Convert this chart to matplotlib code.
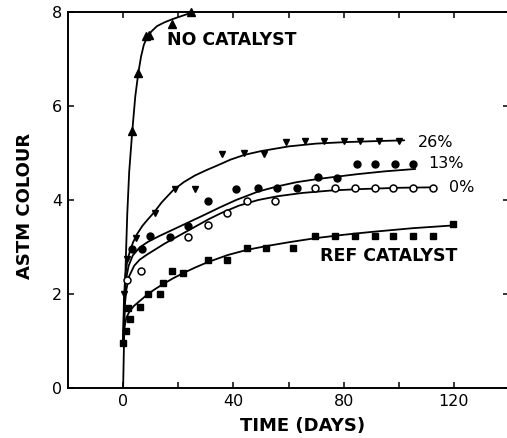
import matplotlib.pyplot as plt

plt.rcParams['font.family'] = ['DejaVu Sans']

# measured points (days, ASTM colour)
no_cat_t = [3.3, 5.5, 8.3, 9.3, 17.8, 24.5]
no_cat_y = [5.47, 6.7, 7.48, 7.52, 7.74, 8.0]

p26_t = [0.3, 1.5, 4.5, 11.5, 19, 26, 36, 44, 51, 59, 66, 73, 80, 86, 93, 100]
p26_y = [2.0, 2.75, 3.2, 3.72, 4.23, 4.23, 4.98, 5.0, 4.98, 5.24, 5.25, 5.25, 5.25, 5.25, 5.25, 5.25]

p13_t = [3.3, 6.9, 9.8, 17, 23.6, 30.8, 41, 49, 56, 63, 70.7, 77.6, 84.8, 91.4, 98.6, 105.2]
p13_y = [2.96, 2.96, 3.23, 3.21, 3.45, 3.98, 4.23, 4.26, 4.26, 4.26, 4.49, 4.47, 4.77, 4.77, 4.76, 4.76]

p0_t = [1.5, 6.5, 23.6, 30.8, 37.7, 45, 55, 69.6, 76.9, 84.1, 91.4, 97.9, 105.2, 112.4]
p0_y = [2.3, 2.49, 3.21, 3.47, 3.72, 3.98, 3.98, 4.26, 4.26, 4.26, 4.26, 4.26, 4.26, 4.26]

ref_t = [0, 1, 2.5, 1.8, 6.2, 9.1, 13.4, 14.5, 17.8, 21.8, 30.8, 37.7, 45, 52, 61.6,
         69.6, 76.9, 84.1, 91.4, 97.9, 105.2, 112.4, 119.7]
ref_y = [0.96, 1.21, 1.47, 1.7, 1.72, 2.0, 2.0, 2.23, 2.49, 2.45, 2.72, 2.72, 2.98, 2.98, 2.98,
         3.23, 3.23, 3.23, 3.23, 3.23, 3.23, 3.23, 3.49]

# fitted curves
no_cat_ct = [0, 0.4, 0.9, 1.5, 2.2, 3.3, 4.4, 5.5, 6.5, 7.5, 9, 10.5, 12.3, 15, 18, 21, 24.5]
no_cat_cy = [0, 1.2, 2.6, 3.7, 4.6, 5.45, 6.2, 6.7, 7.05, 7.3, 7.5, 7.6, 7.7, 7.78, 7.85, 7.91, 7.98]

p26_ct = [0, 0.3, 0.8, 1.5, 2.5, 3.6, 5, 7, 9, 11, 14, 18, 22, 26, 30, 34, 39, 44, 50, 60, 70, 80, 90, 102]
p26_cy = [1.0, 1.9, 2.4, 2.7, 2.92, 3.1, 3.27, 3.45, 3.59, 3.72, 3.95, 4.2, 4.38, 4.52, 4.63, 4.73,
          4.86, 4.96, 5.04, 5.14, 5.2, 5.23, 5.25, 5.27]

p13_ct = [0, 0.4, 1, 2, 3.5, 6, 9, 13, 17, 21, 25, 29, 35, 41, 49, 56, 63, 71, 78, 85, 95, 106]
p13_cy = [1.0, 1.8, 2.3, 2.6, 2.82, 2.99, 3.11, 3.23, 3.34, 3.45, 3.56, 3.67, 3.84, 4.0, 4.18, 4.29,
          4.38, 4.45, 4.5, 4.55, 4.61, 4.66]

p0_ct = [0, 0.5, 1.2, 2.2, 4, 6, 8.7, 12, 15, 19, 23, 27, 31, 35.5, 42, 49, 56, 65, 75, 85, 100, 113]
p0_cy = [1.0, 1.7, 2.1, 2.38, 2.6, 2.73, 2.84, 2.96, 3.07, 3.2, 3.33, 3.46, 3.59, 3.72, 3.88, 4.0,
         4.08, 4.15, 4.2, 4.23, 4.26, 4.27]

ref_ct = [0, 0.5, 1.2, 2.5, 4, 5, 7, 9, 12, 14.5, 18, 22, 26, 30.8, 38, 45, 52, 60, 70, 80, 90,
          105, 120]
ref_cy = [1.0, 1.3, 1.5, 1.65, 1.75, 1.8, 1.9, 2.0, 2.12, 2.21, 2.33, 2.45, 2.56, 2.68, 2.83, 2.94,
          3.02, 3.1, 3.19, 3.26, 3.32, 3.4, 3.46]

x_ticks = [0, 40, 80, 120]
x_minor = [20, 60, 100, 140]
y_ticks = [0, 2, 4, 6, 8]

fig = plt.figure(figsize=(5.07, 4.38), dpi=100)
ax = fig.add_axes([68 / 507, 1 - 388 / 438, 441 / 507, 376 / 438])

lw = 1.3
for ct, cy in [(no_cat_ct, no_cat_cy), (p26_ct, p26_cy), (p13_ct, p13_cy),
               (p0_ct, p0_cy), (ref_ct, ref_cy)]:
    ax.plot(ct, cy, color='black', lw=lw, solid_capstyle='round', solid_joinstyle='round')

ax.plot(no_cat_t, no_cat_y, '^', color='black', ms=6, clip_on=False)
ax.plot(p26_t, p26_y, 'v', color='black', ms=5)
ax.plot(p13_t, p13_y, 'o', color='black', ms=5)
ax.plot(p0_t, p0_y, 'o', mfc='white', mec='black', mew=1.1, ms=5)
ax.plot(ref_t, ref_y, 's', color='black', ms=4.5)

ax.text(16, 7.4, 'NO CATALYST', fontsize=12.5, fontweight='bold', va='center')
ax.text(71.4, 2.81, 'REF CATALYST', fontsize=12.5, fontweight='bold', va='center')
ax.text(107, 5.22, '26%', fontsize=11.5, va='center')
ax.text(110.6, 4.77, '13%', fontsize=11.5, va='center')
ax.text(118.2, 4.26, '0%', fontsize=11.5, va='center')

ax.set_xlim(-20, 140)
ax.set_ylim(0, 8)
ax.set_xticks(x_ticks)
ax.set_xticks(x_minor, minor=True)
ax.set_yticks(y_ticks)
ax.tick_params(which='both', direction='in', top=True, right=True, length=4.5, width=1.1,
               labelsize=11.5, pad=4)

for s in ax.spines.values():
    s.set_linewidth(1.4)

ax.set_xlabel('TIME (DAYS)', fontsize=13, fontweight='bold', va='center')
ax.xaxis.set_label_coords(0.531, -0.101)
ax.set_ylabel('ASTM COLOUR', fontsize=13, fontweight='bold', va='center')
ax.yaxis.set_label_coords(-0.0975, 0.485)

fig.savefig('out.png', dpi=100)
